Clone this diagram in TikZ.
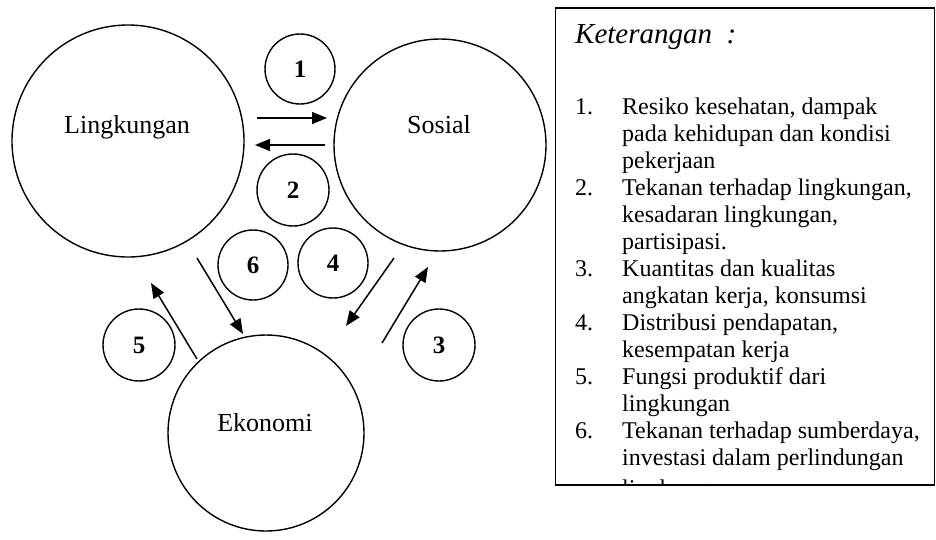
\documentclass[tikz,border=0pt]{standalone}
\usepackage{fontspec}
\setmainfont{Liberation Serif}
\usetikzlibrary{arrows.meta,positioning}
\tikzset{
	ring/.style={circle,draw,line width=1.4pt,minimum size=#1,inner sep=0pt},
	num/.style={circle,draw,line width=1.4pt,minimum size=#1,inner sep=0pt,font=\fontsize{25}{28}\selectfont\bfseries},
	lbl/.style={anchor=base,inner sep=0pt,font=\fontsize{26}{30}\selectfont},
	arr/.style={line width=1.5pt,-{Triangle[length=15pt,width=12pt]}},
	item/.style={anchor=base west,inner sep=0pt,font=\fontsize{24}{27}\selectfont}
}
\begin{document}
\begin{tikzpicture}[x=1pt,y=-1pt]
\useasboundingbox (0,0) rectangle (936,539);
% lingkaran besar
\node [ring=232pt] (L) at (128,141) {};
\node [ring=212pt] (S) at (440,145) {};
\node [ring=196pt] (E) at (266,433) {};
\node [lbl] (Lt) at (127,133) {Lingkungan};
\node [lbl] (St) at (439,133) {Sosial};
\node [lbl] (Et) at (265,431) {Ekonomi};

% lingkaran nomor
\node [num=70pt] (n1) at (300,69) {1};
\node [num=72pt] (n2) at (293,190) {2};
\node [num=72pt] (n3) at (439,345) {3};
\node [num=70pt] (n4) at (333,263) {4};
\node [num=72pt] (n5) at (139,345) {5};
\node [num=70pt] (n6) at (253,265) {6};

% ujung panah
\coordinate (a1) at (257,118); \coordinate (b1) at (327,118);
\coordinate (a2) at (325,145); \coordinate (b2) at (255,145);
\coordinate (a3) at (382,343); \coordinate (b3) at (428,267);
\coordinate (a4) at (394,258); \coordinate (b4) at (346,326);
\coordinate (a5) at (197,359); \coordinate (b5) at (151,283);
\coordinate (a6) at (197,258); \coordinate (b6) at (243,334);
\draw [arr] (a1) -- (b1);
\draw [arr] (a2) -- (b2);
\draw [arr] (a3) -- (b3);
\draw [arr] (a4) -- (b4);
\draw [arr] (a5) -- (b5);
\draw [arr] (a6) -- (b6);

% keterangan
\draw [line width=1.5pt] (555.5,8) rectangle (934.5,485);
\node [item,font=\fontsize{29}{32}\selectfont\itshape] (ket) at (575,43) {Keterangan\ \ :};
\node [item] (k1) at (575,114) {1.};
\node [item] (k2) at (575,195) {2.};
\node [item] (k3) at (575,276) {3.};
\node [item] (k4) at (575,330) {4.};
\node [item] (k5) at (575,384) {5.};
\node [item] (k6) at (575,438) {6.};
\node [item] (t1a) at (622,114) {Resiko kesehatan, dampak};
\node [item] (t1b) at (622,141) {pada kehidupan dan kondisi};
\node [item] (t1c) at (622,168) {pekerjaan};
\node [item] (t2a) at (622,195) {Tekanan terhadap lingkungan,};
\node [item] (t2b) at (622,222) {kesadaran lingkungan,};
\node [item] (t2c) at (622,249) {partisipasi.};
\node [item] (t3a) at (622,276) {Kuantitas dan kualitas};
\node [item] (t3b) at (622,303) {angkatan kerja, konsumsi};
\node [item] (t4a) at (622,330) {Distribusi pendapatan,};
\node [item] (t4b) at (622,357) {kesempatan kerja};
\node [item] (t5a) at (622,384) {Fungsi produktif dari};
\node [item] (t5b) at (622,411) {lingkungan};
\node [item] (t6a) at (622,438) {Tekanan terhadap sumberdaya,};
\node [item] (t6b) at (622,465) {investasi dalam perlindungan};
\begin{scope}
\clip (556,9) rectangle (934,484);
\node [item] (t6c) at (622,496) {lingkungan};
\end{scope}
\end{tikzpicture}
\end{document}
